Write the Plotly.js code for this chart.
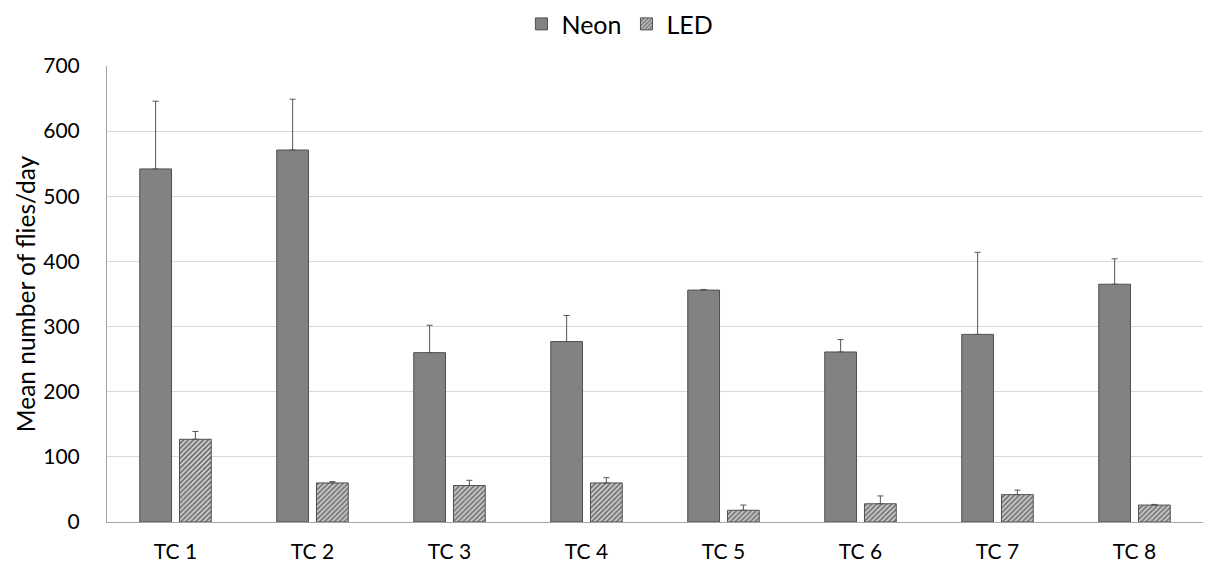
<!DOCTYPE html>
<html>
<head>
<meta charset="utf-8">
<script src="https://cdn.plot.ly/plotly-3.0.1.min.js"></script>
<style>html,body{margin:0;padding:0;background:#fff;}#chart{width:1215px;height:566px;}</style>
</head>
<body>
<div id="chart"></div>
<script>
const categories = ["TC 1","TC 2","TC 3","TC 4","TC 5","TC 6","TC 7","TC 8"];
const neonMean = [542, 571, 260, 277, 356, 261, 288, 365];
const neonErr  = [104, 78, 42, 40, 1, 19, 126, 39];
const ledMean  = [127, 60, 56, 60, 18, 28, 42, 26];
const ledErr   = [12, 2, 8, 8, 8, 12, 7, 1];
const zeros = categories.map(() => 0);

const traces = [
  {
    type: "bar", name: "Neon", x: categories, y: neonMean,
    marker: {color: "#828282", line: {color: "#505050", width: 1}},
    error_y: {type: "data", symmetric: false, array: neonErr, arrayminus: zeros,
              color: "#555555", thickness: 1, width: 3}
  },
  {
    type: "bar", name: "LED", x: categories, y: ledMean,
    marker: {color: "#d0d0d0", line: {color: "#505050", width: 1},
             pattern: {shape: "/", fgcolor: "#666666", bgcolor: "#d0d0d0", size: 3.5, solidity: 0.45}},
    error_y: {type: "data", symmetric: false, array: ledErr, arrayminus: zeros,
              color: "#555555", thickness: 1, width: 3}
  }
];

const layout = {
  width: 1215, height: 566,
  margin: {l: 107, r: 12, t: 66, b: 44},
  paper_bgcolor: "#ffffff", plot_bgcolor: "#ffffff",
  font: {family: "Lato, 'Open Sans', sans-serif", color: "#000000", size: 21},
  barmode: "group", bargap: 0.42, bargroupgap: 0.2,
  showlegend: true,
  legend: {orientation: "h", x: 0.468, xref: "paper", xanchor: "center", y: 0.998, yref: "container", yanchor: "top",
           font: {size: 25}, itemwidth: 30, traceorder: "normal"},
  xaxis: {
    showline: true, linecolor: "#a6a6a6", linewidth: 1,
    showgrid: false, ticks: "", tickfont: {size: 21}, ticklabelstandoff: 11
  },
  yaxis: {
    range: [0, 700], dtick: 100, tick0: 0,
    showline: true, linecolor: "#a6a6a6", linewidth: 1,
    showgrid: true, gridcolor: "#d9d9d9", gridwidth: 1,
    zeroline: false, ticks: "", tickfont: {size: 21}, ticklabelstandoff: 22,
    title: {text: "Mean number of flies/day", font: {size: 24.5}, standoff: 0}
  }
};

Plotly.newPlot("chart", traces, layout, {displayModeBar: false, staticPlot: true});
</script>
</body>
</html>
